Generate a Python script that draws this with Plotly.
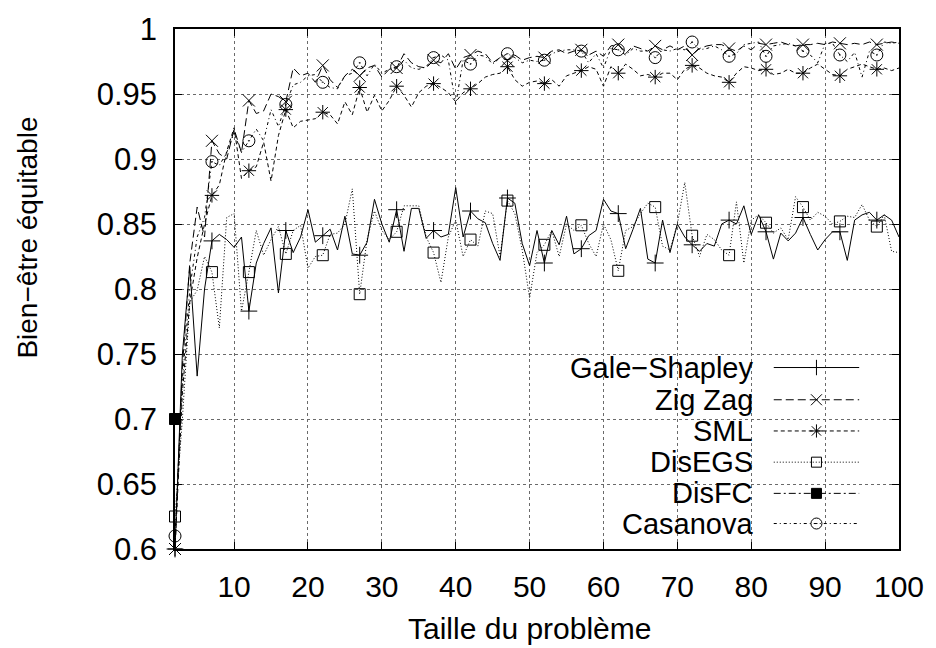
import plotly.graph_objects as go

# ---------------- data ----------------
sizes = list(range(2, 101))

gale_shapley = [
    0.600, 0.750, 0.817, 0.733, 0.800, 0.837, 0.842, 0.838, 0.832, 0.840,
    0.783, 0.820, 0.835, 0.847, 0.797, 0.845, 0.828, 0.840, 0.861, 0.836,
    0.841, 0.846, 0.830, 0.856, 0.827, 0.826, 0.836, 0.869, 0.850, 0.836,
    0.861, 0.829, 0.862, 0.862, 0.839, 0.845, 0.840, 0.842, 0.878, 0.840,
    0.860, 0.854, 0.851, 0.835, 0.822, 0.870, 0.866, 0.835, 0.818, 0.845,
    0.820, 0.845, 0.834, 0.856, 0.827, 0.831, 0.841, 0.845, 0.869, 0.860,
    0.858, 0.831, 0.846, 0.862, 0.823, 0.820, 0.853, 0.828, 0.850, 0.840,
    0.834, 0.829, 0.835, 0.833, 0.850, 0.853, 0.850, 0.864, 0.842, 0.857,
    0.844, 0.823, 0.843, 0.837, 0.843, 0.855, 0.842, 0.830, 0.838, 0.844,
    0.844, 0.822, 0.853, 0.857, 0.859, 0.853, 0.857, 0.853, 0.840,
]

zig_zag = [
    0.600, 0.740, 0.820, 0.863, 0.840, 0.914, 0.904, 0.900, 0.923, 0.905,
    0.945, 0.935, 0.937, 0.950, 0.948, 0.944, 0.970, 0.964, 0.966, 0.959,
    0.972, 0.961, 0.955, 0.964, 0.969, 0.964, 0.970, 0.972, 0.963, 0.969,
    0.970, 0.981, 0.974, 0.971, 0.970, 0.976, 0.974, 0.981, 0.969, 0.978,
    0.980, 0.983, 0.981, 0.974, 0.978, 0.976, 0.980, 0.976, 0.978, 0.979,
    0.978, 0.983, 0.984, 0.981, 0.983, 0.984, 0.980, 0.983, 0.979, 0.987,
    0.988, 0.981, 0.987, 0.985, 0.983, 0.987, 0.984, 0.987, 0.984, 0.987,
    0.980, 0.985, 0.987, 0.988, 0.988, 0.985, 0.983, 0.987, 0.984, 0.989,
    0.988, 0.989, 0.990, 0.988, 0.987, 0.988, 0.988, 0.989, 0.988, 0.990,
    0.989, 0.988, 0.989, 0.988, 0.990, 0.988, 0.989, 0.990, 0.989,
]

sml = [
    0.600, 0.720, 0.790, 0.824, 0.850, 0.872, 0.880, 0.906, 0.924, 0.885,
    0.891, 0.894, 0.913, 0.883, 0.918, 0.938, 0.924, 0.929, 0.930, 0.931,
    0.936, 0.934, 0.927, 0.944, 0.934, 0.955, 0.936, 0.949, 0.937, 0.945,
    0.956, 0.949, 0.940, 0.951, 0.956, 0.958, 0.955, 0.951, 0.944, 0.951,
    0.954, 0.958, 0.963, 0.965, 0.966, 0.971, 0.961, 0.956, 0.959, 0.960,
    0.958, 0.961, 0.956, 0.964, 0.966, 0.968, 0.971, 0.969, 0.956, 0.971,
    0.966, 0.973, 0.969, 0.964, 0.965, 0.963, 0.966, 0.966, 0.961, 0.969,
    0.972, 0.970, 0.966, 0.964, 0.963, 0.959, 0.966, 0.971, 0.970, 0.968,
    0.969, 0.965, 0.966, 0.969, 0.966, 0.966, 0.970, 0.973, 0.969, 0.965,
    0.964, 0.969, 0.971, 0.973, 0.971, 0.969, 0.970, 0.968, 0.970,
]

dis_egs = [
    0.625, 0.700, 0.790, 0.799, 0.825, 0.813, 0.770, 0.855, 0.858, 0.783,
    0.813, 0.845, 0.826, 0.838, 0.848, 0.827, 0.845, 0.849, 0.816, 0.825,
    0.826, 0.842, 0.843, 0.850, 0.877, 0.796, 0.838, 0.860, 0.845, 0.838,
    0.844, 0.864, 0.864, 0.864, 0.840, 0.828, 0.805, 0.840, 0.853, 0.825,
    0.838, 0.833, 0.860, 0.858, 0.825, 0.868, 0.858, 0.830, 0.793, 0.828,
    0.834, 0.845, 0.825, 0.850, 0.845, 0.849, 0.835, 0.825, 0.850, 0.838,
    0.814, 0.845, 0.848, 0.858, 0.866, 0.863, 0.833, 0.830, 0.850, 0.882,
    0.841, 0.825, 0.842, 0.838, 0.830, 0.826, 0.867, 0.820, 0.853, 0.857,
    0.851, 0.843, 0.847, 0.838, 0.871, 0.863, 0.853, 0.859, 0.856, 0.850,
    0.852, 0.856, 0.855, 0.865, 0.853, 0.848, 0.857, 0.829, 0.828,
]

dis_fc_sizes = [2]
dis_fc = [0.700]

casanova = [
    0.610, 0.730, 0.800, 0.840, 0.855, 0.898, 0.895, 0.905, 0.920, 0.905,
    0.914, 0.923, 0.914, 0.938, 0.925, 0.942, 0.957, 0.959, 0.964, 0.965,
    0.959, 0.955, 0.954, 0.964, 0.966, 0.974, 0.964, 0.973, 0.966, 0.969,
    0.971, 0.976, 0.970, 0.969, 0.971, 0.978, 0.980, 0.976, 0.942, 0.976,
    0.973, 0.980, 0.979, 0.973, 0.978, 0.981, 0.978, 0.974, 0.976, 0.975,
    0.976, 0.981, 0.983, 0.984, 0.984, 0.983, 0.974, 0.981, 0.970, 0.985,
    0.984, 0.980, 0.985, 0.983, 0.983, 0.978, 0.984, 0.983, 0.985, 0.984,
    0.990, 0.984, 0.985, 0.987, 0.984, 0.979, 0.981, 0.988, 0.989, 0.990,
    0.979, 0.987, 0.988, 0.989, 0.987, 0.983, 0.980, 0.974, 0.989, 0.989,
    0.980, 0.975, 0.982, 0.963, 0.983, 0.980, 0.990, 0.989, 0.990,
]

x_ticks = [10, 20, 30, 40, 50, 60, 70, 80, 90, 100]
y_ticks = [0.6, 0.65, 0.7, 0.75, 0.8, 0.85, 0.9, 0.95, 1]
y_tick_text = ["0.6", "0.65", "0.7", "0.75", "0.8", "0.85", "0.9", "0.95", "1"]

series_names = ["Gale−Shapley", "Zig Zag", "SML", "DisEGS", "DisFC", "Casanova"]
x_title = "Taille du problème"
y_title = "Bien−être équitable"

# ---------------- styles ----------------
FONT = "Liberation Sans, Arial, Helvetica, sans-serif"
styles = [
    dict(dash="solid", symbol="cross-thin-open", size=12),
    dict(dash="8px,4px", symbol="x-thin-open", size=12),
    dict(dash="4px,3px", symbol="asterisk-open", size=12),
    dict(dash="1px,2px", symbol="square-open", size=11),
    dict(dash="7px,3px,2px,3px", symbol="square", size=11),
    dict(dash="3px,3px,1px,3px", symbol="circle-open-dot", size=12),
]
series = [
    (sizes, gale_shapley),
    (sizes, zig_zag),
    (sizes, sml),
    (sizes, dis_egs),
    (dis_fc_sizes, dis_fc),
    (sizes, casanova),
]

fig = go.Figure()

for (xs, ys), st, name in zip(series, styles, series_names):
    fig.add_trace(go.Scatter(
        x=xs, y=ys, mode="lines", name=name, showlegend=False,
        line=dict(color="black", width=1, dash=st["dash"]),
        hoverinfo="skip",
    ))
    fig.add_trace(go.Scatter(
        x=xs[::5], y=ys[::5], mode="markers", name=name, showlegend=False,
        marker=dict(symbol=st["symbol"], size=st["size"], color="black",
                    line=dict(color="black", width=1)),
        cliponaxis=False,
    ))

# ---------------- custom gnuplot-style key ----------------
key_rows = [0.349, 0.287, 0.227, 0.167, 0.107, 0.049]
key_x0, key_xm, key_x1, key_text_x = 0.827, 0.886, 0.945, 0.7995

for yrow, st, name in zip(key_rows, styles, series_names):
    fig.add_trace(go.Scatter(
        x=[key_x0, key_x1], y=[yrow, yrow], mode="lines", xaxis="x2", yaxis="y2",
        showlegend=False, hoverinfo="skip",
        line=dict(color="black", width=1, dash=st["dash"]),
    ))
    fig.add_trace(go.Scatter(
        x=[key_xm], y=[yrow], mode="markers", xaxis="x2", yaxis="y2",
        showlegend=False, hoverinfo="skip", cliponaxis=False,
        marker=dict(symbol=st["symbol"], size=st["size"] - 1, color="black",
                    line=dict(color="black", width=1)),
    ))
    fig.add_annotation(
        x=key_text_x, y=yrow, xref="paper", yref="paper", text=name,
        showarrow=False, xanchor="right", yanchor="middle",
        font=dict(family=FONT, size=29, color="black"),
        borderpad=0,
    )

fig.add_shape(type="rect", xref="paper", yref="paper",
              x0=0.485, x1=0.998, y0=0.01, y1=0.378,
              fillcolor="white", line=dict(width=0), layer="between")

# axis titles
fig.add_annotation(x=-0.205, y=0.598, xref="paper", yref="paper", text=y_title,
                   textangle=-90, showarrow=False, xanchor="center", yanchor="middle",
                   font=dict(family=FONT, size=28, color="black"))
fig.add_annotation(x=0.489, y=-0.152, xref="paper", yref="paper", text=x_title,
                   showarrow=False, xanchor="center", yanchor="middle",
                   font=dict(family=FONT, size=30, color="black"))

axis_common = dict(
    showline=True, linecolor="black", linewidth=1.5, mirror="allticks",
    ticks="inside", ticklen=7, tickwidth=1, tickcolor="black",
    showgrid=True, gridcolor="#6a6a6a", griddash="dot", gridwidth=1,
    zeroline=False, ticklabeloverflow="allow",
)

fig.update_layout(
    width=936, height=648,
    margin=dict(l=175, r=33, t=16, b=99),
    paper_bgcolor="white", plot_bgcolor="white",
    showlegend=False,
    xaxis=dict(range=[2, 100], tickvals=x_ticks, ticklabelstandoff=10,
               tickfont=dict(family=FONT, size=30, color="black"),
               **axis_common),
    yaxis=dict(range=[0.6, 1.0], tickvals=y_ticks, ticktext=y_tick_text,
               ticklabelstandoff=10,
               tickfont=dict(family=FONT, size=31, color="black"),
               **axis_common),
    xaxis2=dict(overlaying="x", range=[0, 1], visible=False, fixedrange=True),
    yaxis2=dict(overlaying="y", range=[0, 1], visible=False, fixedrange=True),
)

fig.write_html("out.html",
               config={"displayModeBar": False},
               post_script="document.body.style.margin='0';document.body.style.padding='0';")
